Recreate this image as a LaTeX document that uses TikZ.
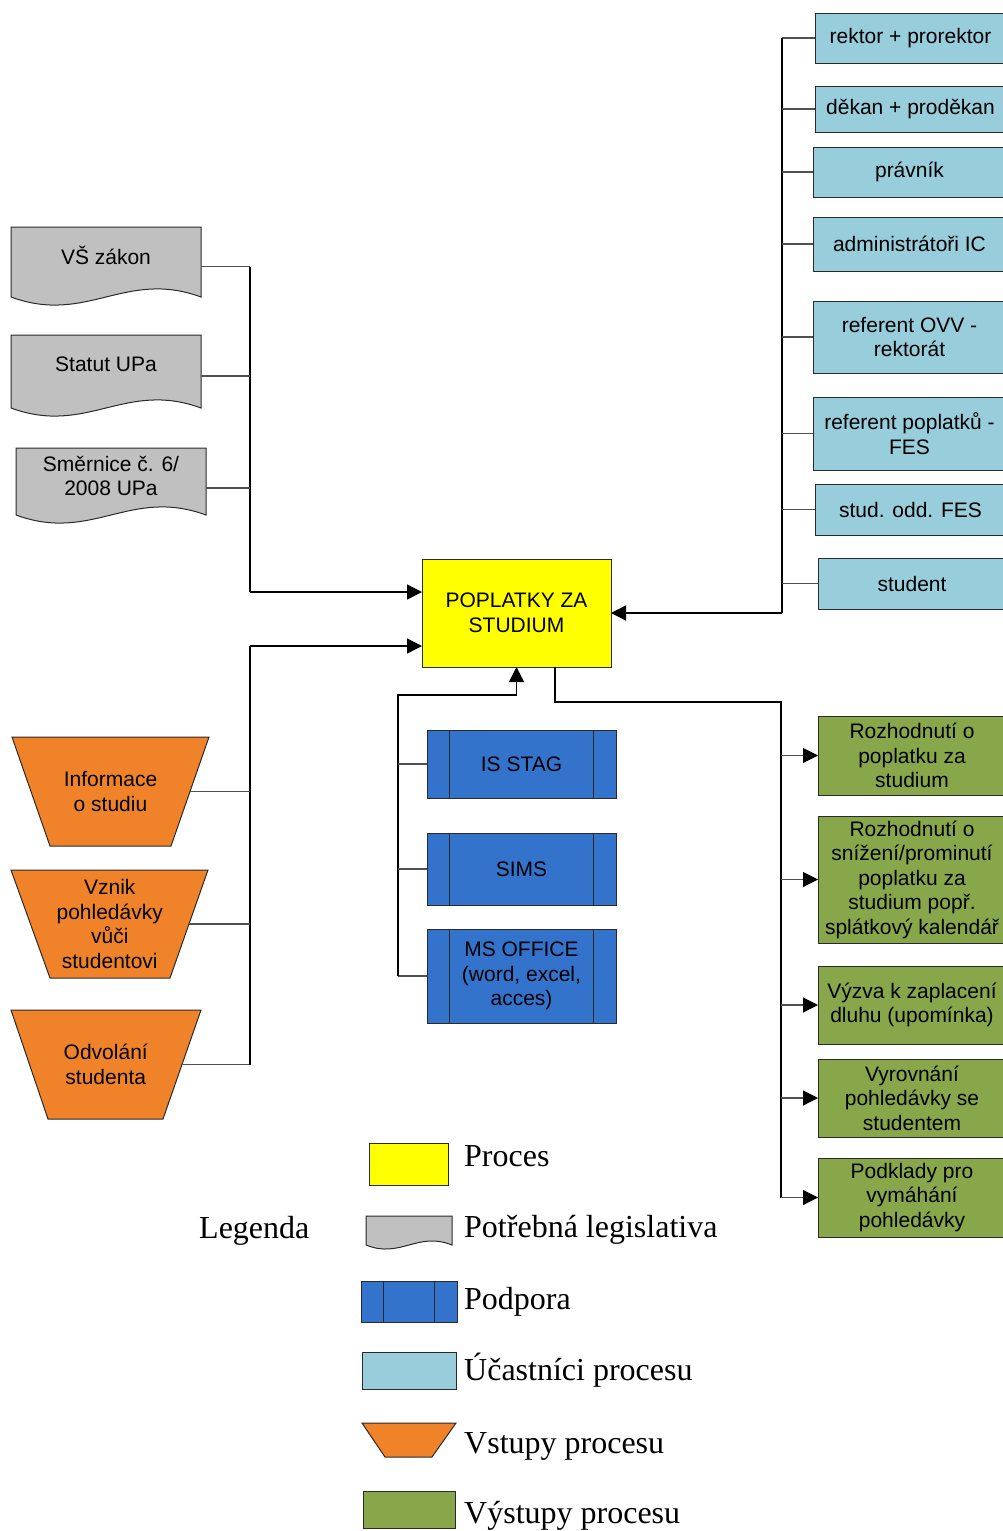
\documentclass[tikz,border=0pt]{standalone}
\usepackage{fontspec}
\setmainfont{Liberation Sans}
\newfontfamily\legfont{Liberation Serif}
\usetikzlibrary{arrows.meta,calc}

\definecolor{procyellow}{HTML}{FFFF00}
\definecolor{docgray}{HTML}{C0C0C0}
\definecolor{supblue}{HTML}{3473CC}
\definecolor{partblue}{HTML}{98CEDC}
\definecolor{inorange}{HTML}{F0832A}
\definecolor{outgreen}{HTML}{87A74A}
\definecolor{edgegray}{HTML}{2A2A2A}
\definecolor{tiegray}{HTML}{505050}

% box by its corners: style, name, x1, y1, x2, y2, text
\newcommand\placebox[7]{%
  \pgfmathsetmacro\pbw{#5-#3}%
  \pgfmathsetmacro\pbh{#6-#4}%
  \node[#1, minimum width=\pbw pt, minimum height=\pbh pt] (#2) at ({(#3+#5)/2},{(#4+#6)/2}) {#7};}

% document shape with a wavy lower edge: x1, top, x2, bottom of the sides, wave depth
\newcommand\docshape[5]{%
  \path[docfill] (#1,#2) -- (#3,#2) -- (#3,#4)
    .. controls ({#3-0.4*(#3-#1)},{#4-#5}) and ({#1+0.4*(#3-#1)},{#4+#5}) .. (#1,#4) -- cycle;}

% inverted trapezium: top x1, top x2, top y, bottom x1, bottom x2, bottom y
\newcommand\inshape[6]{%
  \path[infill] (#1,#3) -- (#2,#3) -- (#5,#6) -- (#4,#6) -- cycle;}

\begin{document}
\begin{tikzpicture}[x=1pt,y=-1pt,
  txt/.style={inner sep=0pt, outer sep=0pt, align=center, text=black,
    font=\fontsize{21}{24.5}\selectfont},
  box/.style={txt, draw=edgegray, line width=1pt},
  procbox/.style={box, fill=procyellow},
  partbox/.style={box, fill=partblue},
  outbox/.style={box, fill=outgreen},
  supbox/.style={box, fill=supblue,
    path picture={
      \draw[edgegray, line width=1pt]
        ([xshift=22pt]path picture bounding box.north west) -- ([xshift=22pt]path picture bounding box.south west)
        ([xshift=-23pt]path picture bounding box.north east) -- ([xshift=-23pt]path picture bounding box.south east);}},
  docfill/.style={fill=docgray, draw=edgegray, line width=1pt},
  infill/.style={fill=inorange, draw=edgegray, line width=1pt},
  conn/.style={draw=black, line width=1.4pt},
  tie/.style={draw=tiegray, line width=1.1pt},
  arr/.style={-{Triangle[length=15pt,width=15pt,color=black]}},
  legtext/.style={anchor=base west, inner sep=0pt, font=\legfont\fontsize{32}{36}\selectfont}
]
\useasboundingbox (0,0) rectangle (1003,1531);

% central process
\placebox{procbox}{proc}{422}{559}{611}{667}{POPLATKY ZA\\STUDIUM}

% legislation
\docshape{11}{227}{201}{297}{28}
\placebox{txt}{vs}{11}{227}{201}{284}{VŠ zákon}
\docshape{11}{335}{201}{408}{28}
\placebox{txt}{st}{11}{335}{201}{393}{Statut UPa}
\docshape{16}{448}{206}{515}{28}
\placebox{txt}{sm}{16}{448}{206}{504}{Směrnice č. 6/\\2008 UPa}

% process inputs
\inshape{12}{209}{737}{50}{171}{846}
\placebox{txt}{in1}{31}{737}{190}{846}{Informace\\o studiu}
\inshape{11}{208}{870}{50}{170}{978}
\placebox{txt}{in2}{30.5}{870}{189}{978}{Vznik\\pohledávky\\vůči\\studentovi}
\inshape{11}{201}{1010}{48}{163}{1119}
\placebox{txt}{in3}{29.5}{1010}{182}{1119}{Odvolání\\studenta}

% support
\placebox{supbox}{s1}{427}{730}{616}{798}{IS STAG}
\placebox{supbox}{s2}{427}{833}{616}{905}{SIMS}
\placebox{supbox}{s3}{427}{929}{616}{1023}{MS OFFICE\\(word, excel,\\acces)}

% participants
\placebox{partbox}{p1}{815}{13}{1006}{63}{rektor + prorektor}
\placebox{partbox}{p2}{815}{86}{1006}{132}{děkan + proděkan}
\placebox{partbox}{p3}{813}{147}{1006}{197}{právník}
\placebox{partbox}{p4}{813}{217}{1006}{271}{administrátoři IC}
\placebox{partbox}{p5}{813}{301}{1006}{373}{referent OVV -\\rektorát}
\placebox{partbox}{p6}{813}{397}{1006}{470}{referent poplatků -\\FES}
\placebox{partbox}{p7}{815}{484}{1006}{535}{stud. odd. FES}
\placebox{partbox}{p8}{818}{558}{1006}{609}{student}

% outputs
\placebox{outbox}{o1}{818}{716}{1006}{795}{Rozhodnutí o\\poplatku za\\studium}
\placebox{outbox}{o2}{818}{816}{1006}{943}{Rozhodnutí o\\snížení/prominutí\\poplatku za\\studium popř.\\splátkový kalendář}
\placebox{outbox}{o3}{818}{966}{1006}{1044}{Výzva k zaplacení\\dluhu (upomínka)}
\placebox{outbox}{o4}{818}{1059}{1006}{1137}{Vyrovnání\\pohledávky se\\studentem}
\placebox{outbox}{o5}{818}{1158}{1006}{1237}{Podklady pro\\vymáhání\\pohledávky}

% legislation into the process
\coordinate (lbus) at (250,592);
\draw[tie] ([yshift=-11pt]vs.east) -- ([yshift=-11pt]vs.east -| lbus);
\draw[conn] ([yshift=-11pt]vs.east -| lbus) -- (lbus);
\draw[tie] ([yshift=-12pt]st.east) -- ([yshift=-12pt]st.east -| lbus);
\draw[tie] ([yshift=-12pt]sm.east) -- ([yshift=-12pt]sm.east -| lbus);
\draw[conn,arr] (lbus) -- (proc.west |- lbus);

% inputs into the process
\coordinate (ibus) at (250,646);
\draw[tie] (in3.east) -- (in3.east -| ibus);
\draw[conn] (in3.east -| ibus) -- (ibus);
\draw[tie] (in1.east) -- (in1.east -| ibus);
\draw[tie] (in2.east) -- (in2.east -| ibus);
\draw[conn,arr] (ibus) -- (proc.west |- ibus);

% support into the process
\coordinate (sbus) at (398,695);
\draw[tie] (s3.west) -- (s3.west -| sbus);
\draw[conn,arr] (s3.west -| sbus) -- (sbus) -| (proc.south);
\draw[tie] (s1.west) -- (s1.west -| sbus);
\draw[tie] (s2.west) -- (s2.west -| sbus);

% participants into the process
\coordinate (pbus) at (782,613);
\draw[tie] (p1.west) -- (p1.west -| pbus);
\draw[conn] (p1.west -| pbus) -- (pbus);
\foreach \p in {p2,p3,p4,p5,p6,p7,p8}
  \draw[tie] (\p.west) -- (\p.west -| pbus);
\draw[conn,arr] (pbus) -- (proc.east |- pbus);

% outputs of the process
\coordinate (obus) at (781,702);
\draw[conn] ([xshift=38.5pt]proc.south) |- (obus) -- (obus |- o5.west);
\foreach \o in {o1,o2,o3,o4,o5}
  \draw[tie,arr] (\o.west -| obus) -- (\o.west);

% legend
\node[legtext] (leg) at (199,1238) {Legenda};
\placebox{box, fill=procyellow}{lk1}{369}{1143}{448}{1185}{}
\node[legtext] (lt1) at (464,1166) {Proces};
\docshape{366}{1216}{452}{1245}{14}
\node[legtext] (lt2) at (464,1237) {Potřebná legislativa};
\placebox{supbox}{lk3}{361}{1281}{457}{1322}{}
\node[legtext] (lt3) at (464,1309) {Podpora};
\placebox{partbox}{lk4}{362}{1352}{456}{1389}{}
\node[legtext] (lt4) at (464,1380) {Účastníci procesu};
\inshape{362}{456}{1423}{385}{432}{1457}
\node[legtext] (lt5) at (464,1453) {Vstupy procesu};
\placebox{outbox}{lk6}{363}{1491}{455}{1528}{}
\node[legtext] (lt6) at (464,1523) {Výstupy procesu};
\end{tikzpicture}
\end{document}
